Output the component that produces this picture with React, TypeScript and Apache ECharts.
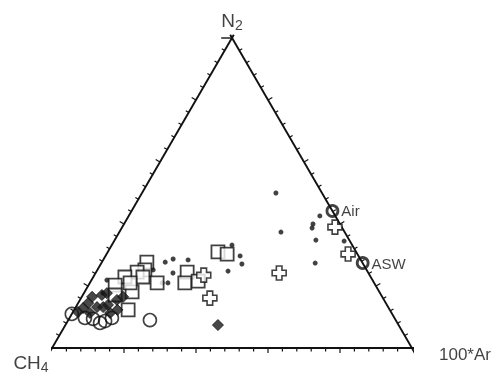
import React, { useEffect, useRef } from "react";
import * as echarts from "echarts";

// Ternary compositions: [100*Ar %, N2 %]; CH4 % = 100 - Ar - N2
const dotSamples: number[][] = [
  [37.2, 50.0], [44.9, 37.4], [53.1, 42.6], [52.9, 38.7], [52.5, 40.0],
  [55.9, 34.8], [63.9, 34.5], [59.4, 27.4], [33.4, 33.2], [37.4, 29.7],
  [39.2, 27.1], [36.5, 24.8], [23.6, 28.4], [17.6, 27.7], [19.3, 28.7],
  [21.5, 24.2], [21.7, 21.0], [20.1, 21.0], [15.5, 25.2], [4.3, 21.9], [5.3, 17.7],
];
const squareSamples: number[][] = [
  [12.5, 27.7], [13.2, 25.2], [11.4, 24.5], [8.8, 22.9], [7.4, 20.3],
  [13.2, 18.1], [15.0, 12.3], [9.0, 17.1], [18.7, 21.0], [25.3, 24.5],
  [26.4, 21.0], [29.8, 21.6], [30.6, 31.0], [33.5, 30.3], [13.8, 22.9], [11.2, 21.0],
];
const crossSamples: number[][] = [
  [59.1, 39.0], [67.1, 30.3], [51.0, 24.2], [30.4, 23.5], [35.8, 16.1],
];
const circleSamples: number[][] = [
  [0.0, 11.0], [6.7, 9.4], [10.4, 8.7], [11.8, 9.7], [9.3, 8.1], [22.7, 9.0], [4.3, 9.7],
];
const diamondSamples: number[][] = [
  [2.9, 16.5], [5.3, 17.1], [2.2, 12.9], [5.9, 13.2], [8.6, 13.9], [10.3, 15.5],
  [10.5, 11.3], [4.9, 11.3], [7.6, 13.2], [1.4, 11.6], [6.4, 17.7], [12.0, 12.3],
  [2.8, 14.5], [11.5, 16.5], [42.4, 7.4],
];
const refNames = ["Air", "ASW"];
const refPoints: number[][] = [[55.8, 44.2], [72.6, 27.4]];
const tickValues = [4, 8, 12, 16, 20, 24, 28, 32, 36, 40, 44, 48, 52, 56, 60, 64, 68, 72, 76, 80, 84, 88, 92, 96];

const H = Math.sqrt(3) / 2;
const toXY = (p: number[]) => [p[0] + p[1] / 2, p[1] * H];

const FONT = "Liberation Sans";
const INK = "#111";
const crossPath = "path://M3,0H7V3H10V7H7V10H3V7H0V3H3Z";

export default function App() {
  const ref = useRef<HTMLDivElement>(null);
  useEffect(() => {
    if (!ref.current) return;
    const chart = echarts.init(ref.current, null, { renderer: "svg" });

    // tick data: [t, edge]
    const tickData: number[][] = [];
    for (let e = 0; e < 3; e++) tickValues.forEach((t) => tickData.push([t, e]));

    const edgePoint = (t: number, e: number) => {
      if (e === 0) return [t, 0]; // base CH4 -> Ar
      if (e === 1) return [t / 2, t * H]; // left CH4 -> N2
      return [100 - t / 2, t * H]; // right Ar -> N2
    };
    const normals = [
      [0, 1],
      [-0.866, -0.5],
      [0.866, -0.5],
    ];

    const sc = (name: string, data: number[][], symbol: string, size: number, style: any) => ({
      name,
      type: "scatter",
      data: data.map(toXY),
      symbol,
      symbolSize: size,
      itemStyle: style,
      clip: false,
      silent: true,
      z: 3,
    });

    const edge = (data: number[][], w = 1.9) => ({
      type: "line",
      data,
      symbol: "none",
      lineStyle: { color: INK, width: w },
      clip: false,
      silent: true,
    });

    chart.setOption({
      animation: false,
      grid: { left: 52, right: 88, top: 38, bottom: 29 },
      xAxis: { type: "value", min: 0, max: 100, show: false },
      yAxis: { type: "value", min: 0, max: 100 * H, show: false },
      series: [
        edge([[-2.5, 0], [101, 0]]),
        edge([[-0.6, -1.1], [50.5, 87.5]]),
        edge([[101, -1.8], [49.5, 87.5]]),
        edge([[47, 86.6], [50, 86.6]], 1.4),
        {
          type: "custom",
          data: tickData,
          clip: false,
          silent: true,
          renderItem: (params: any, api: any) => {
            const t = api.value(0);
            const e = api.value(1);
            const p = api.coord(edgePoint(t, e));
            const n = normals[e];
            const len = t % 20 === 0 ? 5 : 3.5;
            return {
              type: "line",
              shape: { x1: p[0], y1: p[1], x2: p[0] + n[0] * len, y2: p[1] + n[1] * len },
              style: { stroke: INK, lineWidth: 1.2 },
            };
          },
        },
        sc("dots", dotSamples, "circle", 5, { color: INK }),
        sc("squares", squareSamples, "rect", 13, { color: "#fff", borderColor: INK, borderWidth: 1.8 }),
        sc("crosses", crossSamples, crossPath, 14, { color: "#fff", borderColor: INK, borderWidth: 1.6 }),
        sc("circles", circleSamples, "circle", 13, { color: "rgba(255,255,255,0)", borderColor: INK, borderWidth: 1.6 }),
        sc("diamonds", diamondSamples, "diamond", 11, { color: "#1a1a1a", borderColor: INK, borderWidth: 1 }),
        {
          type: "scatter",
          data: refPoints.map((p, i) => ({ value: toXY(p), name: refNames[i] })),
          symbol: "circle",
          symbolSize: 11,
          itemStyle: { color: "rgba(255,255,255,0)", borderColor: INK, borderWidth: 2.8 },
          label: {
            show: true,
            position: "right",
            distance: 2,
            formatter: (p: any) => p.name,
            fontFamily: FONT,
            fontSize: 15,
            color: INK,
          },
          clip: false,
          silent: true,
          z: 4,
        },
        {
          type: "scatter",
          data: [
            { value: [50, 100 * H], label: { position: "top", distance: 6, formatter: "{a|N}{b|2}" } },
            { value: [0, 0], label: { position: "bottom", distance: 2, offset: [-21, 0], formatter: "{a|CH}{b|4}" } },
            { value: [100, 0], label: { position: "right", distance: 27, offset: [0, 6], formatter: "{c|100*Ar}" } },
          ],
          symbolSize: 0,
          label: {
            show: true,
            color: INK,
            fontFamily: FONT,
            rich: {
              a: { fontSize: 19, fontFamily: FONT, color: INK },
              b: { fontSize: 14, fontFamily: FONT, color: INK, padding: [10, 0, 0, 0] },
              c: { fontSize: 17, fontFamily: FONT, color: INK },
            },
          },
          clip: false,
          silent: true,
        },
      ],
    });
    return () => chart.dispose();
  }, []);
  return <div ref={ref} style={{ position: "fixed", left: 0, top: 0, width: 500, height: 377 }} />;
}
